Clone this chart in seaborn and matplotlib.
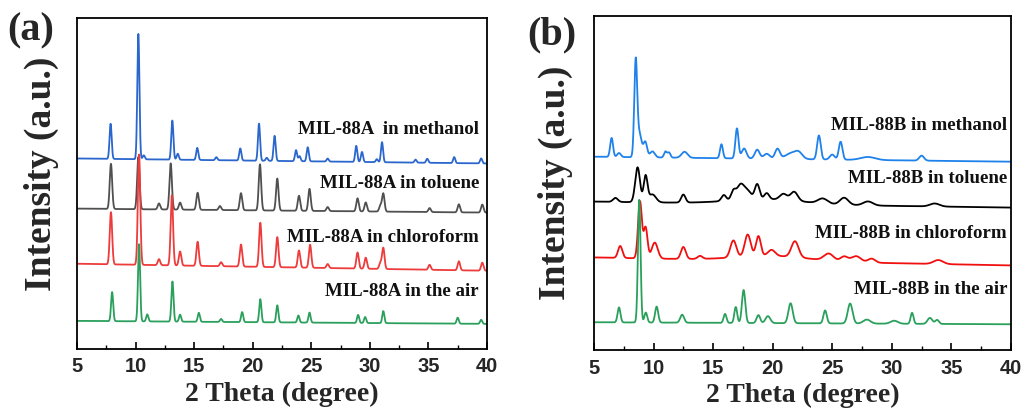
import numpy as np
import pandas as pd
import matplotlib
matplotlib.use("Agg")
import matplotlib.pyplot as plt
import seaborn as sns
from matplotlib.ticker import MultipleLocator

# ---------------- data (peak lists) ----------------
# Panel (a): MIL-88A; each sample: baseline (start, end), peak centres, heights, widths
a_names = ["MIL-88A  in methanol", "MIL-88A in toluene", "MIL-88A in chloroform", "MIL-88A in the air"]
a_colors = ["#2a66cc", "#505050", "#ee3b3b", "#2aa05c"]
a_base = [(190, 185), (140, 136), (85, 78), (28, 25)]

a_meth_pos = [7.87, 10.24, 10.7, 13.14, 13.6, 15.27, 16.9, 18.94, 20.54, 21.2, 21.87, 23.7, 24.0, 24.7, 26.4, 28.84, 29.33, 30.6, 31.04, 33.9, 34.9, 37.2, 39.5]
a_meth_h = [35, 125, 4, 39, 6, 12, 3, 12, 37, 3, 25, 11, 5, 14, 3, 16, 10, 3, 20, 3, 4, 6, 5]

a_tol_pos = [7.9, 10.24, 12.0, 13.0, 13.8, 15.3, 17.2, 19.0, 20.62, 22.1, 23.95, 24.85, 26.4, 28.95, 29.65, 30.9, 31.15, 35.1, 37.6, 39.6]
a_tol_h = [45, 52, 6, 46, 7, 17, 4, 17, 46, 32, 15, 22, 4, 13, 9, 6, 18, 4, 8, 8]

a_chl_pos = [7.9, 10.3, 12.0, 13.1, 13.8, 15.3, 17.3, 19.0, 20.65, 22.1, 23.95, 24.9, 26.4, 28.95, 29.65, 30.9, 31.15, 35.1, 37.6, 39.6]
a_chl_h = [52, 110, 6, 70, 14, 24, 4, 22, 44, 30, 17, 23, 4, 16, 11, 6, 21, 5, 9, 8]

a_air_pos = [8.0, 10.3, 11.0, 13.15, 13.8, 15.4, 17.3, 19.1, 20.65, 22.1, 23.9, 24.85, 29.0, 29.6, 31.15, 37.5, 39.5]
a_air_h = [29, 77, 7, 40, 7, 9, 3, 10, 23, 17, 7, 10, 8, 6, 12, 6, 4]

a_width = 0.09

# Panel (b): MIL-88B
b_names = ["MIL-88B in methanol", "MIL-88B in toluene", "MIL-88B in chloroform", "MIL-88B in the air"]
b_colors = ["#1f82ea", "#000000", "#f01010", "#2aa05c"]
b_base = [(194, 189), (149, 143), (93, 85), (28, 26)]

b_meth_pos = [6.48, 7.1, 8.5, 8.8, 9.31, 9.9, 11.0, 11.3, 12.6, 15.7, 17.0, 17.6, 18.7, 19.5, 20.4, 21.6, 22.2, 23.88, 25.0, 25.7, 28.0, 32.5]
b_meth_h = [19, 4, 92, 24, 15, 6, 6, 5, 6, 14, 30, 10, 9, 5, 10, 6, 5, 24, 5, 18, 3, 5]
b_meth_w = [0.12, 0.15, 0.12, 0.2, 0.15, 0.2, 0.12, 0.12, 0.25, 0.12, 0.13, 0.2, 0.2, 0.25, 0.2, 0.5, 0.3, 0.15, 0.2, 0.15, 0.6, 0.2]

b_tol_pos = [6.8, 8.66, 9.33, 9.9, 12.5, 15.9, 16.7, 17.3, 17.9, 18.7, 19.5, 20.9, 21.8, 24.2, 26.0, 28.0, 33.6, 19.5]
b_tol_h = [4, 35, 26, 8, 8, 6, 9, 15, 8, 15, 6, 6, 9, 5, 7, 4, 3, 5]
b_tol_w = [0.2, 0.2, 0.16, 0.3, 0.18, 0.2, 0.2, 0.3, 0.3, 0.2, 0.2, 0.3, 0.3, 0.4, 0.35, 0.4, 0.4, 3.0]

b_chl_pos = [7.2, 8.86, 9.33, 10.1, 12.5, 13.9, 16.7, 17.9, 18.8, 19.9, 21.87, 24.7, 26.0, 27.0, 28.3, 33.9, 20.0]
b_chl_h = [12, 57, 31, 16, 12, 3, 17, 22, 20, 6, 16, 7, 5, 6, 4, 4, 5]
b_chl_w = [0.18, 0.16, 0.16, 0.25, 0.2, 0.2, 0.25, 0.25, 0.2, 0.3, 0.3, 0.4, 0.3, 0.4, 0.3, 0.4, 3.0]

b_air_pos = [7.1, 8.8, 9.35, 10.26, 12.4, 16.0, 16.9, 17.56, 18.8, 19.6, 21.5, 24.4, 26.5, 27.9, 30.2, 31.7, 33.2, 33.8]
b_air_h = [15, 123, 10, 16, 8, 9, 16, 33, 8, 7, 20, 13, 20, 4, 3, 11, 6, 4]
b_air_w = [0.12, 0.11, 0.12, 0.13, 0.16, 0.12, 0.12, 0.14, 0.15, 0.2, 0.18, 0.14, 0.2, 0.3, 0.3, 0.12, 0.2, 0.15]

x_ticks = [5, 10, 15, 20, 25, 30, 35, 40]

# ---------------- build curves from the peak lists ----------------
tt = np.linspace(5, 40, 3501)

def profile(base, pos, h, w):
    y = np.linspace(base[0], base[1], tt.size)
    if np.isscalar(w):
        w = [w] * len(pos)
    for c, hh, ww in zip(pos, h, w):
        y = y + hh * np.exp(-0.5 * ((tt - c) / ww) ** 2)
    return y

a_series = [
    profile(a_base[0], a_meth_pos, a_meth_h, a_width),
    profile(a_base[1], a_tol_pos, a_tol_h, a_width * 1.15),
    profile(a_base[2], a_chl_pos, a_chl_h, a_width * 1.15),
    profile(a_base[3], a_air_pos, a_air_h, a_width),
]
b_series = [
    profile(b_base[0], b_meth_pos, b_meth_h, b_meth_w),
    profile(b_base[1], b_tol_pos, b_tol_h, b_tol_w),
    profile(b_base[2], b_chl_pos, b_chl_h, b_chl_w),
    profile(b_base[3], b_air_pos, b_air_h, b_air_w),
]

def frame(names, series):
    return pd.concat([pd.DataFrame({"theta": tt, "I": s, "sample": n}) for n, s in zip(names, series)],
                     ignore_index=True)

df_a = frame(a_names, a_series)
df_b = frame(b_names, b_series)

# ---------------- plotting ----------------
sns.set_theme(style="ticks")
plt.rcParams["font.family"] = ["Liberation Serif", "DejaVu Serif"]

fig = plt.figure(figsize=(10.25, 4.12), dpi=100)
ax_a = fig.add_axes([0.0751, 0.153, 0.400, 0.803])
ax_b = fig.add_axes([0.5795, 0.150, 0.4068, 0.811])

serif_bold = dict(family=["Liberation Serif", "DejaVu Serif"], weight="bold")
sans_bold = dict(family=["Liberation Sans", "DejaVu Sans"], weight="bold")

panels = [
    (ax_a, df_a, a_names, a_colors, (0, 330), [129, 183, 237, 292], 479, (41, 174)),
    (ax_b, df_b, b_names, b_colors, (0, 335), [126, 179, 234, 289], 1007, (555, 183)),
]

for ax, df, names, colors, ylim, label_y, label_x, ylab_xy in panels:
    for i in range(len(names)):
        sub = df[df["sample"] == names[i]]
        sns.lineplot(data=sub, x="theta", y="I", ax=ax, color=colors[i], lw=1.3,
                     estimator=None, sort=False, legend=False)
    ax.set_xlim(5, 40)
    ax.set_ylim(*ylim)
    ax.set_yticks([])
    ax.set_xticks(x_ticks)
    ax.set_xticklabels([str(t) for t in x_ticks], fontsize=14.5, **sans_bold)
    ax.xaxis.set_minor_locator(MultipleLocator(2.5))
    ax.tick_params(axis="x", which="major", direction="in", length=5, width=1.2, pad=6, color="black")
    ax.tick_params(axis="x", which="minor", direction="in", length=3, width=1.0, color="black")
    for sp in ax.spines.values():
        sp.set_linewidth(1.3)
        sp.set_color("black")
    ax.set_xlabel("2 Theta (degree)", fontsize=20, labelpad=4, **serif_bold)
    ax.set_ylabel("Intensity (a.u.)", fontsize=27, **serif_bold)
    ax.yaxis.label.set_verticalalignment("center")
    ax.yaxis.label.set_horizontalalignment("center")
    lx, ly = ax.transAxes.inverted().transform(
        fig.transFigure.transform((ylab_xy[0] / 1025, 1 - ylab_xy[1] / 412)))
    ax.yaxis.set_label_coords(lx, ly)

    # sample labels placed in pixel coordinates
    for nm, yp in zip(names, label_y):
        xd, yd = ax.transData.inverted().transform(
            fig.transFigure.transform((label_x / 1025, 1 - yp / 412)))
        ax.text(xd, yd, nm, ha="right", va="center", fontsize=13.6, color="#111111", **serif_bold)

fig.text(7 / 1025, 1 - 31 / 412, "(a)", fontsize=29, ha="left", va="center", **serif_bold)
fig.text(527 / 1025, 1 - 35 / 412, "(b)", fontsize=29, ha="left", va="center", **serif_bold)

fig.savefig("out.png", dpi=100)
